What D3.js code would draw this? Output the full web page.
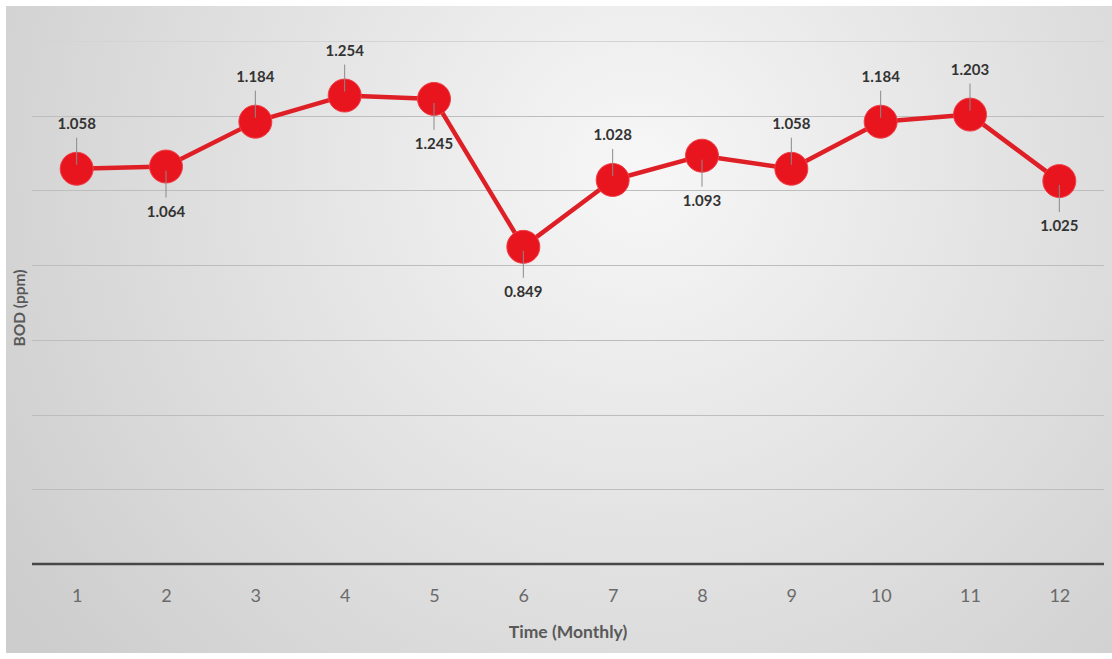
<!DOCTYPE html>
<html>
<head>
<meta charset="utf-8">
<script src="https://cdn.jsdelivr.net/npm/d3@7"></script>
<style>
  html, body { margin: 0; padding: 0; background: #ffffff; }
  svg { display: block; }
</style>
</head>
<body>
<svg id="chart" width="1112" height="659"></svg>
<script>
// Monthly BOD readings
const months = ["1", "2", "3", "4", "5", "6", "7", "8", "9", "10", "11", "12"];
const bodValues = [1.058, 1.064, 1.184, 1.254, 1.245, 0.849, 1.028, 1.093, 1.058, 1.184, 1.203, 1.025];
const labelSide = ["above", "below", "above", "above", "below", "below", "above", "below", "above", "above", "above", "below"];
const gridValues = [0.2, 0.4, 0.6, 0.8, 1.0, 1.2, 1.4];

const W = 1112, H = 659;
const svg = d3.select("#chart");

// soft gray panel with a lighter centre
const defs = svg.append("defs");
const grad = defs.append("radialGradient")
  .attr("id", "bg").attr("gradientUnits", "userSpaceOnUse")
  .attr("cx", 640).attr("cy", 170).attr("r", 760);
grad.append("stop").attr("offset", "0").attr("stop-color", "#f7f7f7");
grad.append("stop").attr("offset", "0.45").attr("stop-color", "#e4e4e4");
grad.append("stop").attr("offset", "1").attr("stop-color", "#cdcdcd");

svg.append("rect").attr("x", 0).attr("y", 0).attr("width", W).attr("height", H).attr("fill", "#ffffff");
svg.append("rect").attr("x", 6).attr("y", 6).attr("width", W - 6).attr("height", H - 12).attr("fill", "url(#bg)");

const plot = { left: 32, right: 1104, top: 41, bottom: 564 };

const x = d3.scalePoint().domain(months).range([plot.left, plot.right]).padding(0.5);
const y = d3.scaleLinear().domain([0, 1.4]).range([plot.bottom, plot.top]);

// horizontal gridlines
svg.append("g").selectAll("line").data(gridValues).join("line")
  .attr("x1", plot.left).attr("x2", plot.right)
  .attr("y1", d => Math.round(y(d)) + 0.5).attr("y2", d => Math.round(y(d)) + 0.5)
  .attr("stroke", d => d === 1.4 ? "#d4d4d4" : "#bdbdbd").attr("stroke-width", 1);

// category axis
const xAxis = svg.append("g")
  .attr("transform", `translate(0,${plot.bottom})`)
  .call(d3.axisBottom(x).tickSize(0).tickPadding(25));
xAxis.select(".domain").attr("stroke", "#474747").attr("stroke-width", 2.5)
  .attr("d", `M${plot.left},0H${plot.right}`);
xAxis.selectAll("text")
  .attr("font-family", "Lato, 'Open Sans', sans-serif")
  .attr("font-size", 18).attr("fill", "#6a6a6a");

// axis titles
svg.append("text")
  .attr("x", 568).attr("y", 638)
  .attr("text-anchor", "middle")
  .attr("font-family", "Lato, 'Open Sans', sans-serif")
  .attr("font-weight", "bold").attr("font-size", 17.5).attr("fill", "#595959")
  .text("Time (Monthly)");

svg.append("text")
  .attr("transform", "translate(25,308) rotate(-90)")
  .attr("text-anchor", "middle")
  .attr("font-family", "Lato, 'Open Sans', sans-serif")
  .attr("font-weight", "bold").attr("font-size", 15.5).attr("fill", "#595959")
  .text("BOD (ppm)");

const points = months.map((m, i) => ({ m, v: bodValues[i], side: labelSide[i] }));

// series line
svg.append("path")
  .datum(points)
  .attr("fill", "none")
  .attr("stroke", "#df1f26")
  .attr("stroke-width", 4.5)
  .attr("stroke-linejoin", "round")
  .attr("d", d3.line().x(d => x(d.m)).y(d => y(d.v)));

// markers
svg.append("g").selectAll("circle").data(points).join("circle")
  .attr("cx", d => x(d.m)).attr("cy", d => y(d.v))
  .attr("r", 16.5)
  .attr("fill", "#e8141e")
  .attr("stroke", "#f04048").attr("stroke-width", 1);

// leader lines and value labels
const off = 45;
svg.append("g").selectAll("line").data(points).join("line")
  .attr("x1", d => x(d.m)).attr("x2", d => x(d.m))
  .attr("y1", d => y(d.v) + (d.side === "above" ? -4 : 4))
  .attr("y2", d => y(d.v) + (d.side === "above" ? -(off - 14) : (off - 14)))
  .attr("stroke", "#8a8a8a").attr("stroke-width", 1);

svg.append("g").selectAll("text").data(points).join("text")
  .attr("x", d => x(d.m))
  .attr("y", d => y(d.v) + (d.side === "above" ? -off : off))
  .attr("dy", "0.35em")
  .attr("text-anchor", "middle")
  .attr("font-family", "Lato, 'Open Sans', sans-serif")
  .attr("font-weight", "bold").attr("font-size", 15).attr("fill", "#333333")
  .text(d => d3.format(".3f")(d.v));
</script>
</body>
</html>
